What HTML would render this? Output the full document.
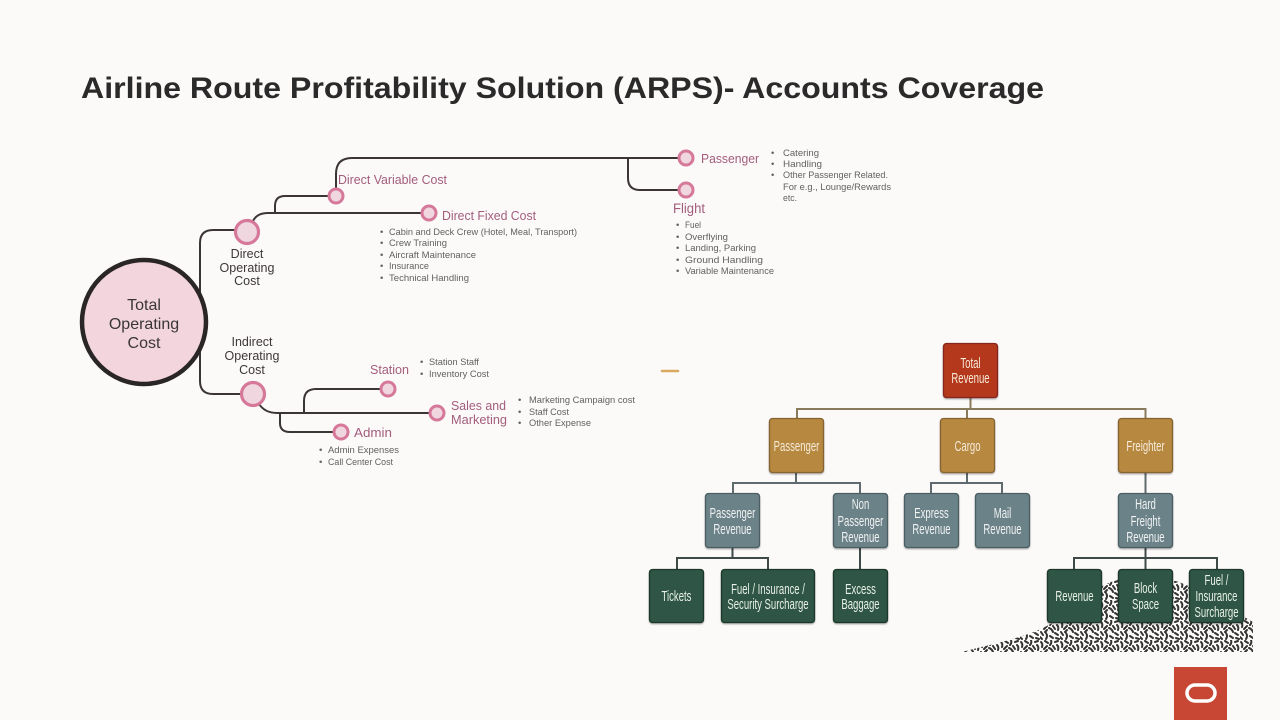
<!DOCTYPE html>
<html>
<head>
<meta charset="utf-8">
<style>
html,body{margin:0;padding:0;background:#fcfaf9;}
svg{display:block;}
text{font-family:"Liberation Sans",sans-serif;}
</style>
</head>
<body>
<svg width="1280" height="720" viewBox="0 0 1280 720" xmlns="http://www.w3.org/2000/svg">
<defs>
  <pattern id="tex" width="20" height="20" patternUnits="userSpaceOnUse">
    <path d="M1 2 Q3 4 2 7 M5 1 L8 3 M11 0 Q12 3 10 5 M15 2 L18 1 M17 5 Q19 7 18 10 M4 9 L7 6 M9 8 Q12 9 13 12 M1 12 L3 15 M6 13 Q8 16 6 19 M10 16 L13 18 M15 13 L18 15 M16 18 L19 19 M0 17 L2 19 M13 6 L15 9 M7 10 L5 12" stroke="#333" stroke-width="2" stroke-linecap="round" fill="none"/>
  </pattern>
  <clipPath id="mound">
    <path d="M962,652 C1000,642 1035,636 1060,618 C1082,600 1098,582 1132,576 C1172,572 1200,590 1253,622 L1253,652 Z"/>
  </clipPath>
  <filter id="sh" x="-10%" y="-10%" width="120%" height="130%">
    <feDropShadow dx="0" dy="1.2" stdDeviation="0.8" flood-color="#000" flood-opacity="0.35"/>
  </filter>
</defs>

<rect width="1280" height="720" fill="#fcfaf9"/>

<!-- Title -->
<text x="81" y="98" font-size="30" font-weight="bold" fill="#2b2a2a" textLength="963" lengthAdjust="spacingAndGlyphs">Airline Route Profitability Solution (ARPS)- Accounts Coverage</text>

<!-- ===== Cost tree connectors ===== -->
<g stroke="#3c3536" stroke-width="2" fill="none" stroke-linecap="round">
  <path d="M200,298 L200,243 Q200,230 213,230 L235,230"/>
  <path d="M200,346 L200,381 Q200,394 213,394 L240,394"/>
  <path d="M253,221 Q257,213 268,213 L421,213"/>
  <path d="M275,213 L275,206 Q275,196 285,196 L328,196"/>
  <path d="M336,188 L336,174 Q336,158 352,158 L678,158"/>
  <path d="M628,158 L628,178 Q628,190 640,190 L678,190"/>
  <path d="M259,404 Q265,413 277,413 L429,413"/>
  <path d="M304,413 L304,401 Q304,389 316,389 L380,389"/>
  <path d="M280,413 L280,423 Q280,432 290,432 L333,432"/>
</g>

<!-- Big circle -->
<circle cx="144" cy="322" r="62" fill="#f3d6dd" stroke="#2a2526" stroke-width="4.5"/>
<g font-size="16" fill="#3a3636" text-anchor="middle">
  <text x="144" y="310">Total</text>
  <text x="144" y="329">Operating</text>
  <text x="144" y="348">Cost</text>
</g>

<!-- Nodes -->
<g stroke="#d6789a" fill="#f0d6df">
  <circle cx="247" cy="232" r="11.5" stroke-width="3.2"/>
  <circle cx="253" cy="394" r="11.5" stroke-width="3.2"/>
  <circle cx="336" cy="196" r="7" stroke-width="3"/>
  <circle cx="429" cy="213" r="7" stroke-width="3"/>
  <circle cx="686" cy="158" r="7" stroke-width="3"/>
  <circle cx="686" cy="190" r="7" stroke-width="3"/>
  <circle cx="388" cy="389" r="7" stroke-width="3"/>
  <circle cx="437" cy="413" r="7" stroke-width="3"/>
  <circle cx="341" cy="432" r="7" stroke-width="3"/>
</g>

<!-- Dark labels -->
<g font-size="12.5" fill="#3d3838" text-anchor="middle">
  <text x="247" y="258">Direct</text>
  <text x="247" y="272">Operating</text>
  <text x="247" y="285">Cost</text>
  <text x="252" y="346">Indirect</text>
  <text x="252" y="360">Operating</text>
  <text x="252" y="374">Cost</text>
</g>

<!-- Mauve labels -->
<g font-size="13" fill="#a35d7c">
  <text x="338" y="184" textLength="109" lengthAdjust="spacingAndGlyphs">Direct Variable Cost</text>
  <text x="442" y="220" textLength="94" lengthAdjust="spacingAndGlyphs">Direct Fixed Cost</text>
  <text x="701" y="163" textLength="58" lengthAdjust="spacingAndGlyphs">Passenger</text>
  <text x="673" y="213" font-size="13.5" textLength="32" lengthAdjust="spacingAndGlyphs">Flight</text>
  <text x="370" y="374" textLength="39" lengthAdjust="spacingAndGlyphs">Station</text>
  <text x="451" y="410" textLength="55" lengthAdjust="spacingAndGlyphs">Sales and</text>
  <text x="451" y="424" textLength="56" lengthAdjust="spacingAndGlyphs">Marketing</text>
  <text x="354" y="437" textLength="38" lengthAdjust="spacingAndGlyphs">Admin</text>
</g>

<!-- Bullets -->
<g font-size="9.5" fill="#626060">
  <text x="380" y="235">•</text><text x="389" y="235" textLength="188" lengthAdjust="spacingAndGlyphs">Cabin and Deck Crew (Hotel, Meal, Transport)</text>
  <text x="380" y="246">•</text><text x="389" y="246" textLength="58" lengthAdjust="spacingAndGlyphs">Crew Training</text>
  <text x="380" y="258">•</text><text x="389" y="258" textLength="87" lengthAdjust="spacingAndGlyphs">Aircraft Maintenance</text>
  <text x="380" y="269">•</text><text x="389" y="269" textLength="40" lengthAdjust="spacingAndGlyphs">Insurance</text>
  <text x="380" y="281">•</text><text x="389" y="281" textLength="80" lengthAdjust="spacingAndGlyphs">Technical Handling</text>
  <text x="771" y="156">•</text><text x="783" y="156" textLength="36" lengthAdjust="spacingAndGlyphs">Catering</text>
  <text x="771" y="167">•</text><text x="783" y="167" textLength="39" lengthAdjust="spacingAndGlyphs">Handling</text>
  <text x="771" y="178">•</text><text x="783" y="178" textLength="105" lengthAdjust="spacingAndGlyphs">Other Passenger Related.</text>
  <text x="783" y="190" textLength="108" lengthAdjust="spacingAndGlyphs">For e.g., Lounge/Rewards</text>
  <text x="783" y="201" textLength="14" lengthAdjust="spacingAndGlyphs">etc.</text>
  <text x="676" y="228">•</text><text x="685" y="228" textLength="16" lengthAdjust="spacingAndGlyphs">Fuel</text>
  <text x="676" y="240">•</text><text x="685" y="240" textLength="43" lengthAdjust="spacingAndGlyphs">Overflying</text>
  <text x="676" y="251">•</text><text x="685" y="251" textLength="71" lengthAdjust="spacingAndGlyphs">Landing, Parking</text>
  <text x="676" y="263">•</text><text x="685" y="263" textLength="78" lengthAdjust="spacingAndGlyphs">Ground Handling</text>
  <text x="676" y="274">•</text><text x="685" y="274" textLength="89" lengthAdjust="spacingAndGlyphs">Variable Maintenance</text>
  <text x="420" y="365">•</text><text x="429" y="365" textLength="50" lengthAdjust="spacingAndGlyphs">Station Staff</text>
  <text x="420" y="377">•</text><text x="429" y="377" textLength="60" lengthAdjust="spacingAndGlyphs">Inventory Cost</text>
  <text x="518" y="403">•</text><text x="529" y="403" textLength="106" lengthAdjust="spacingAndGlyphs">Marketing Campaign cost</text>
  <text x="518" y="415">•</text><text x="529" y="415" textLength="40" lengthAdjust="spacingAndGlyphs">Staff Cost</text>
  <text x="518" y="426">•</text><text x="529" y="426" textLength="62" lengthAdjust="spacingAndGlyphs">Other Expense</text>
  <text x="319" y="453">•</text><text x="328" y="453" textLength="71" lengthAdjust="spacingAndGlyphs">Admin Expenses</text>
  <text x="319" y="465">•</text><text x="328" y="465" textLength="65" lengthAdjust="spacingAndGlyphs">Call Center Cost</text>
</g>

<!-- Orange dash -->
<line x1="662" y1="371" x2="678" y2="371" stroke="#d9a962" stroke-width="2.5" stroke-linecap="round"/>

<!-- Mound texture -->
<rect x="955" y="560" width="300" height="95" fill="url(#tex)" clip-path="url(#mound)"/>

<!-- ===== Revenue tree connectors ===== -->
<g stroke="#8a7a5c" stroke-width="2" fill="none">
  <path d="M970.5,398 L970.5,409"/>
  <path d="M797,418 L797,409 L1145.5,409 L1145.5,418"/>
  <path d="M967,409 L967,418"/>
</g>
<g stroke="#5e6a6d" stroke-width="2" fill="none">
  <path d="M796,473 L796,483"/>
  <path d="M733,493 L733,483 L860,483 L860,493"/>
  <path d="M967,473 L967,483"/>
  <path d="M931,493 L931,483 L1002,483 L1002,493"/>
  <path d="M1145.5,473 L1145.5,493"/>
</g>
<g stroke="#3e4a48" stroke-width="2" fill="none">
  <path d="M732.5,547 L732.5,558"/>
  <path d="M677,569 L677,558 L768,558 L768,569"/>
  <path d="M860,547 L860,569"/>
  <path d="M1145.5,547 L1145.5,569"/>
  <path d="M1074,569 L1074,558 L1217,558 L1217,569"/>
</g>

<!-- Boxes -->
<g filter="url(#sh)" stroke-width="1.3">
  <rect x="943.5" y="343.5" width="54" height="54" rx="3" fill="#b3391f" stroke="#84281a"/>
  <rect x="769.5" y="418.5" width="54" height="54" rx="3" fill="#b6883f" stroke="#876430"/>
  <rect x="940.5" y="418.5" width="54" height="54" rx="3" fill="#b6883f" stroke="#876430"/>
  <rect x="1118.5" y="418.5" width="54" height="54" rx="3" fill="#b6883f" stroke="#876430"/>
  <rect x="705.5" y="493.5" width="54" height="54" rx="3" fill="#6c8289" stroke="#4c5e64"/>
  <rect x="833.5" y="493.5" width="54" height="54" rx="3" fill="#6c8289" stroke="#4c5e64"/>
  <rect x="904.5" y="493.5" width="54" height="54" rx="3" fill="#6c8289" stroke="#4c5e64"/>
  <rect x="975.5" y="493.5" width="54" height="54" rx="3" fill="#6c8289" stroke="#4c5e64"/>
  <rect x="1118.5" y="493.5" width="54" height="54" rx="3" fill="#6c8289" stroke="#4c5e64"/>
  <rect x="649.5" y="569.5" width="54" height="53" rx="3" fill="#2f5544" stroke="#1d372b"/>
  <rect x="721.5" y="569.5" width="93" height="53" rx="3" fill="#2f5544" stroke="#1d372b"/>
  <rect x="833.5" y="569.5" width="54" height="53" rx="3" fill="#2f5544" stroke="#1d372b"/>
  <rect x="1047.5" y="569.5" width="54" height="53" rx="3" fill="#2f5544" stroke="#1d372b"/>
  <rect x="1118.5" y="569.5" width="54" height="53" rx="3" fill="#2f5544" stroke="#1d372b"/>
  <rect x="1189.5" y="569.5" width="54" height="53" rx="3" fill="#2f5544" stroke="#1d372b"/>
</g>

<!-- Box texts -->
<g font-size="14.5" text-anchor="middle">
  <g fill="#f6ebd8">
    <text transform="translate(970.5,368) scale(0.66,1)">Total</text>
    <text transform="translate(970.5,383) scale(0.66,1)">Revenue</text>
    <text transform="translate(796.5,451) scale(0.66,1)">Passenger</text>
    <text transform="translate(967.5,451) scale(0.66,1)">Cargo</text>
    <text transform="translate(1145.5,451) scale(0.66,1)">Freighter</text>
  </g>
  <g fill="#f0f3f2">
    <text transform="translate(732.5,518) scale(0.66,1)">Passenger</text>
    <text transform="translate(732.5,534) scale(0.66,1)">Revenue</text>
    <text transform="translate(860.5,509) scale(0.66,1)">Non</text>
    <text transform="translate(860.5,526) scale(0.66,1)">Passenger</text>
    <text transform="translate(860.5,542) scale(0.66,1)">Revenue</text>
    <text transform="translate(931.5,518) scale(0.66,1)">Express</text>
    <text transform="translate(931.5,534) scale(0.66,1)">Revenue</text>
    <text transform="translate(1002.5,518) scale(0.66,1)">Mail</text>
    <text transform="translate(1002.5,534) scale(0.66,1)">Revenue</text>
    <text transform="translate(1145.5,509) scale(0.66,1)">Hard</text>
    <text transform="translate(1145.5,526) scale(0.66,1)">Freight</text>
    <text transform="translate(1145.5,542) scale(0.66,1)">Revenue</text>
  </g>
  <g fill="#e9f0ea">
    <text transform="translate(676.5,601) scale(0.66,1)">Tickets</text>
    <text transform="translate(768,594) scale(0.66,1)">Fuel / Insurance /</text>
    <text transform="translate(768,609) scale(0.66,1)">Security Surcharge</text>
    <text transform="translate(860.5,594) scale(0.66,1)">Excess</text>
    <text transform="translate(860.5,609) scale(0.66,1)">Baggage</text>
    <text transform="translate(1074.5,601) scale(0.66,1)">Revenue</text>
    <text transform="translate(1145.5,593) scale(0.66,1)">Block</text>
    <text transform="translate(1145.5,609) scale(0.66,1)">Space</text>
    <text transform="translate(1216.5,585) scale(0.66,1)">Fuel /</text>
    <text transform="translate(1216.5,601) scale(0.66,1)">Insurance</text>
    <text transform="translate(1216.5,617) scale(0.66,1)">Surcharge</text>
  </g>
</g>

<!-- Oracle logo -->
<rect x="1174" y="667" width="53" height="53" fill="#c74634"/>
<rect x="1187" y="685" width="28" height="16" rx="8" fill="none" stroke="#ffffff" stroke-width="3.5"/>
</svg>
</body>
</html>
